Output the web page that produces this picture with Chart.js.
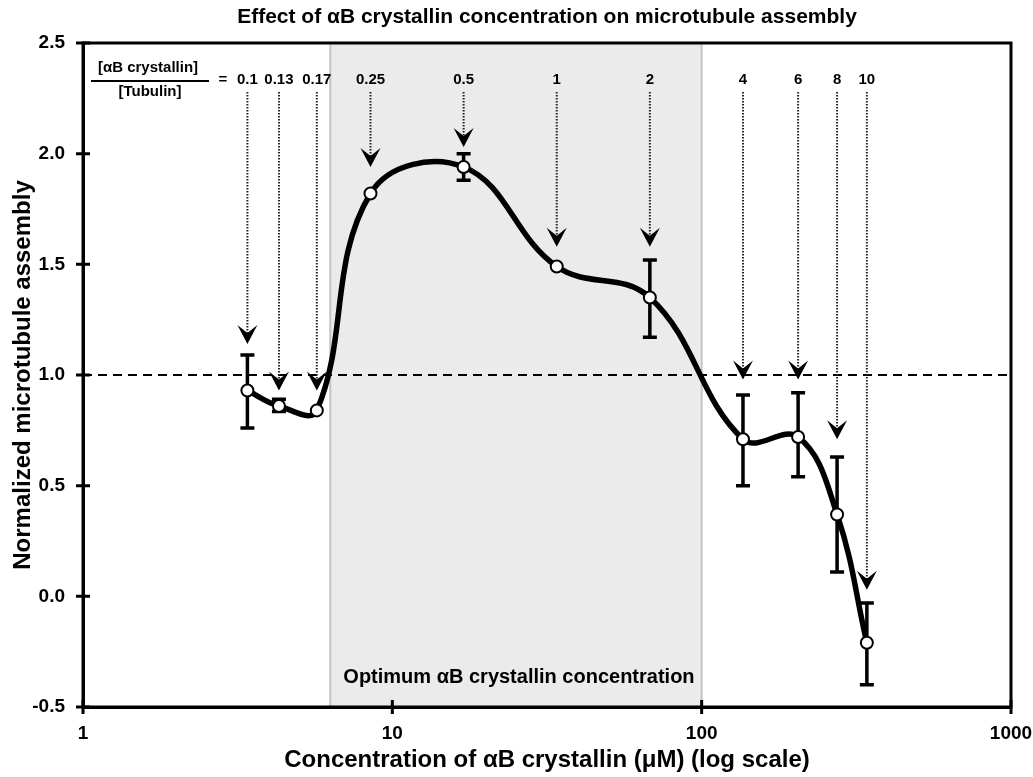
<!DOCTYPE html>
<html>
<head>
<meta charset="utf-8">
<script src="https://cdn.jsdelivr.net/npm/chart.js@4"></script>
<style>
  html, body { margin: 0; padding: 0; background: #fff; }
  #wrap { width: 1033px; height: 777px; }
</style>
</head>
<body>
<div id="wrap"><canvas id="assemblyChart" width="1033" height="777"></canvas></div>
<script>
// ratio labels and measured values
const ratios = ['0.1', '0.13', '0.17', '0.25', '0.5', '1', '2', '4', '6', '8', '10'];
const concentrations = [3.4, 4.3, 5.7, 8.5, 17, 34, 68, 136, 205, 274, 342];
const assembly = [0.93, 0.86, 0.84, 1.82, 1.94, 1.49, 1.35, 0.71, 0.72, 0.37, -0.21];
const errTop = [1.09, 0.89, 0.84, 1.82, 2.0, 1.49, 1.52, 0.91, 0.92, 0.63, -0.03];
const errBottom = [0.76, 0.835, 0.84, 1.82, 1.88, 1.49, 1.17, 0.50, 0.54, 0.11, -0.40];
const arrowTips = [1.14, 0.93, 0.93, 1.94, 2.03, 1.58, 1.58, 0.98, 0.98, 0.71, 0.03];
const xTicks = [1, 10, 100, 1000];
const optimumRange = [6.3, 100];
const baseline = 1.0;

const FONT = '"Liberation Sans", Arial, sans-serif';
const chartTitle = 'Effect of \u03b1B crystallin concentration on microtubule assembly';

const decorations = {
    id: 'decorations',
    beforeDatasetsDraw(chart) {
        const { ctx, chartArea: a, scales: { x, y } } = chart;
        ctx.save();
        // optimum band
        const x0 = x.getPixelForValue(optimumRange[0]);
        const x1 = x.getPixelForValue(optimumRange[1]);
        ctx.fillStyle = '#ebebeb';
        ctx.fillRect(x0, a.top, x1 - x0, a.bottom - a.top);
        ctx.strokeStyle = '#c4c4c4';
        ctx.lineWidth = 2;
        ctx.beginPath();
        ctx.moveTo(x0, a.top); ctx.lineTo(x0, a.bottom);
        ctx.moveTo(x1, a.top); ctx.lineTo(x1, a.bottom);
        ctx.stroke();
        ctx.fillStyle = '#000';
        ctx.font = 'bold 20px ' + FONT;
        ctx.textAlign = 'center';
        ctx.textBaseline = 'middle';
        ctx.fillText('Optimum \u03b1B crystallin concentration', (x0 + x1) / 2 + 3, a.bottom - 30);

        // error bars
        ctx.strokeStyle = '#000';
        ctx.lineWidth = 3.5;
        concentrations.forEach((c, i) => {
            if (errTop[i] - errBottom[i] < 0.005) return;
            const px = x.getPixelForValue(c);
            const yt = y.getPixelForValue(errTop[i]);
            const yb = y.getPixelForValue(errBottom[i]);
            ctx.beginPath();
            ctx.moveTo(px, yt); ctx.lineTo(px, yb);
            ctx.moveTo(px - 7, yt); ctx.lineTo(px + 7, yt);
            ctx.moveTo(px - 7, yb); ctx.lineTo(px + 7, yb);
            ctx.stroke();
        });
        ctx.restore();
    },
    afterDatasetsDraw(chart) {
        const { ctx, chartArea: a, scales: { x, y } } = chart;
        ctx.save();
        // title, centred over the plot area
        ctx.fillStyle = '#000';
        ctx.font = 'bold 21px ' + FONT;
        ctx.textAlign = 'center';
        ctx.textBaseline = 'middle';
        ctx.fillText(chartTitle, (a.left + a.right) / 2, 17);

        // frame
        ctx.strokeStyle = '#000';
        ctx.lineWidth = 3;
        ctx.strokeRect(a.left, a.top, a.right - a.left, a.bottom - a.top);
        // crossing tick marks
        ctx.beginPath();
        xTicks.forEach(t => {
            const px = x.getPixelForValue(t);
            ctx.moveTo(px, a.bottom - 7); ctx.lineTo(px, a.bottom + 7);
        });
        for (let v = -0.5; v <= 2.5; v += 0.5) {
            const py = y.getPixelForValue(v);
            ctx.moveTo(a.left - 7, py); ctx.lineTo(a.left + 7, py);
        }
        ctx.stroke();

        // ratio header
        ctx.font = 'bold 15px ' + FONT;
        const labelY = a.top + 37;
        ctx.fillText('[\u03b1B crystallin]', 148, labelY - 12);
        ctx.fillText('[Tubulin]', 150, labelY + 12);
        ctx.lineWidth = 2;
        ctx.beginPath();
        ctx.moveTo(91, labelY + 1); ctx.lineTo(209, labelY + 1);
        ctx.stroke();
        ctx.fillText('=', 223, labelY);

        // arrows
        concentrations.forEach((c, i) => {
            const px = x.getPixelForValue(c);
            const tip = y.getPixelForValue(arrowTips[i]);
            ctx.fillText(ratios[i], px, labelY);
            ctx.strokeStyle = '#222';
            ctx.lineWidth = 2;
            ctx.setLineDash([1.5, 1.5]);
            ctx.beginPath();
            ctx.moveTo(px, labelY + 12); ctx.lineTo(px, tip - 8);
            ctx.stroke();
            ctx.setLineDash([]);
            ctx.beginPath();
            ctx.moveTo(px, tip);
            ctx.lineTo(px - 10, tip - 19);
            ctx.lineTo(px, tip - 11);
            ctx.lineTo(px + 10, tip - 19);
            ctx.closePath();
            ctx.fill();
        });
        ctx.restore();
    }
};

new Chart(document.getElementById('assemblyChart').getContext('2d'), {
    type: 'line',
    data: {
        datasets: [{
            label: 'baseline',
            data: [{ x: xTicks[0], y: baseline }, { x: xTicks[xTicks.length - 1], y: baseline }],
            borderColor: '#000',
            borderWidth: 2,
            borderDash: [9, 6],
            pointRadius: 0,
            order: 2
        }, {
            label: 'assembly',
            data: concentrations.map((c, i) => ({ x: c, y: assembly[i] })),
            borderColor: '#000',
            borderWidth: 5.5,
            tension: 0.4,
            pointRadius: 6,
            pointBackgroundColor: '#fff',
            pointBorderColor: '#000',
            pointBorderWidth: 2,
            order: 1
        }]
    },
    options: {
        responsive: false,
        animation: false,
        layout: { padding: { left: 4, right: 22, top: 43, bottom: 2 } },
        plugins: {
            legend: { display: false },
            tooltip: { enabled: false },
            title: { display: false }
        },
        scales: {
            x: {
                type: 'logarithmic',
                min: 1,
                max: 1000,
                afterBuildTicks: s => { s.ticks = xTicks.map(v => ({ value: v })); },
                afterFit: s => { s.height = 68; s.paddingLeft = 0; s.paddingRight = 0; },
                ticks: {
                    color: '#000',
                    font: { family: FONT, size: 19, weight: 'bold' },
                    padding: 7,
                    maxRotation: 0,
                    callback: v => String(v)
                },
                grid: { display: false },
                border: { display: true, color: '#000', width: 3 },
                title: {
                    display: true,
                    text: 'Concentration of \u03b1B crystallin (\u03bcM) (log scale)',
                    color: '#000',
                    font: { family: FONT, size: 24, weight: 'bold' },
                    padding: { top: 0, bottom: 0 }
                }
            },
            y: {
                min: -0.5,
                max: 2.5,
                afterFit: s => { s.width = 79; s.paddingTop = 0; s.paddingBottom = 0; },
                ticks: {
                    stepSize: 0.5,
                    color: '#000',
                    font: { family: FONT, size: 19, weight: 'bold' },
                    padding: 10,
                    callback: v => v.toFixed(1)
                },
                grid: { display: false },
                border: { display: true, color: '#000', width: 3 },
                title: {
                    display: true,
                    text: 'Normalized microtubule assembly',
                    color: '#000',
                    font: { family: FONT, size: 24, weight: 'bold' },
                    padding: { top: 5, bottom: 0 }
                }
            }
        }
    },
    plugins: [decorations]
});
</script>
</body>
</html>
